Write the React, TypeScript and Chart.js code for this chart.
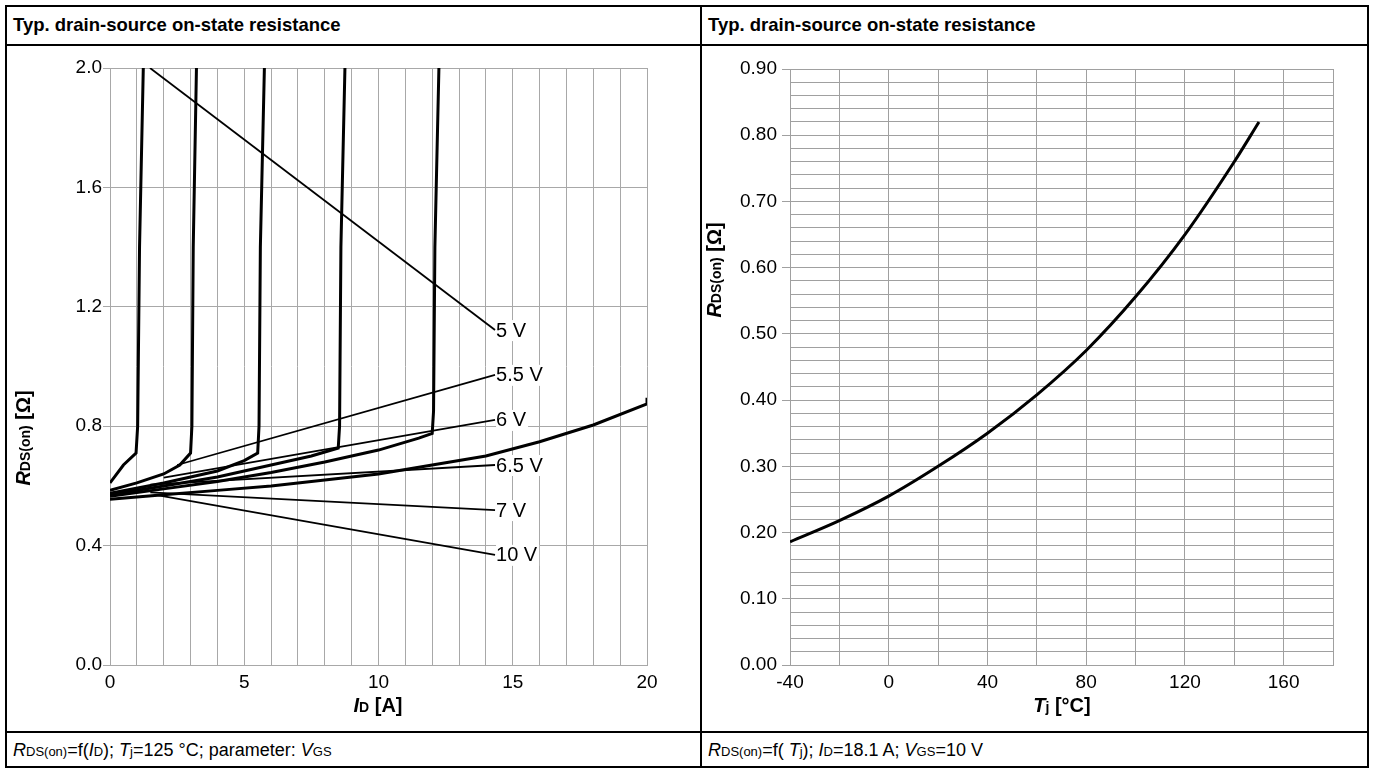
import React, { useEffect, useRef } from "react";
import { Chart, registerables } from "chart.js";

Chart.register(...registerables);

const FONT = "'Liberation Sans', Arial, sans-serif";
const TICK_SIZE = 19;

// ---------- Left chart: RDS(on) = f(ID), Tj = 125 °C ----------
const curve5V_I = [0, 0.5, 0.97, 1.03, 1.1, 1.24];
const curve5V_R = [0.61, 0.67, 0.71, 0.8, 1.4, 2.0];
const curve55V_I = [0, 1, 2, 2.6, 3.0, 3.05, 3.1, 3.22];
const curve55V_R = [0.585, 0.61, 0.64, 0.67, 0.71, 0.8, 1.4, 2.0];
const curve6V_I = [0, 2, 4, 5, 5.5, 5.55, 5.6, 5.75];
const curve6V_R = [0.575, 0.61, 0.65, 0.685, 0.71, 0.8, 1.4, 2.0];
const curve65V_I = [0, 2, 4, 6, 7.5, 8.5, 8.55, 8.6, 8.75];
const curve65V_R = [0.57, 0.6, 0.63, 0.67, 0.7, 0.727, 0.8, 1.4, 2.0];
const curve7V_I = [0, 2, 4, 6, 8, 10, 11.5, 12.0, 12.05, 12.1, 12.25];
const curve7V_R = [0.565, 0.59, 0.615, 0.645, 0.68, 0.72, 0.76, 0.776, 0.85, 1.4, 2.0];
const curve10V_I = [0, 2, 4, 6, 8, 10, 12, 14, 16, 18, 20, 20];
const curve10V_R = [0.555, 0.57, 0.585, 0.6, 0.62, 0.64, 0.67, 0.7, 0.748, 0.804, 0.875, 0.895];

const vgsLabels = ["5 V", "5.5 V", "6 V", "6.5 V", "7 V", "10 V"];
const leaderStartI = [1.49, 2.5, 2.0, 1.5, 1.5, 1.7];
const leaderStartR = [2.0, 0.67, 0.628, 0.604, 0.578, 0.57];
const labelI = [14.34, 14.34, 14.34, 14.34, 14.34, 14.34];
const labelR = [1.122, 0.972, 0.821, 0.67, 0.519, 0.369];

// ---------- Right chart: RDS(on) = f(Tj) ----------
const tjValues = [-40, -20, 0, 20, 40, 60, 80, 100, 120, 140, 150];
const rdsTj = [0.186, 0.218, 0.255, 0.3, 0.35, 0.408, 0.475, 0.556, 0.65, 0.76, 0.82];

type Seg = { t: string; f: string; dy?: number };

function drawRich(ctx: CanvasRenderingContext2D, segs: Seg[], cx: number, cy: number, rotate: boolean) {
  ctx.save();
  ctx.translate(cx, cy);
  if (rotate) ctx.rotate(-Math.PI / 2);
  let total = 0;
  const widths = segs.map((s) => {
    ctx.font = s.f;
    const w = ctx.measureText(s.t).width;
    total += w;
    return w;
  });
  let x = -total / 2;
  ctx.fillStyle = "#000";
  ctx.textBaseline = "middle";
  ctx.textAlign = "left";
  segs.forEach((s, i) => {
    ctx.font = s.f;
    ctx.fillText(s.t, x, s.dy || 0);
    x += widths[i];
  });
  ctx.restore();
}

const pts = (xs: number[], ys: number[]) => xs.map((x, i) => ({ x, y: ys[i] }));

const rTitle = (): Seg[] => [
  { t: "R", f: `italic bold 20px ${FONT}` },
  { t: "DS(on)", f: `bold 14px ${FONT}`, dy: 2 },
  { t: " [Ω]", f: `bold 20px ${FONT}` },
];

function LeftChart() {
  const ref = useRef<HTMLCanvasElement>(null);
  useEffect(() => {
    const curves = [
      pts(curve5V_I, curve5V_R),
      pts(curve55V_I, curve55V_R),
      pts(curve6V_I, curve6V_R),
      pts(curve65V_I, curve65V_R),
      pts(curve7V_I, curve7V_R),
      pts(curve10V_I, curve10V_R),
    ];
    const datasets: any[] = curves.map((d) => ({
      data: d,
      showLine: true,
      borderColor: "#000",
      borderWidth: 3,
      pointRadius: 0,
      tension: 0,
      fill: false,
    }));
    vgsLabels.forEach((_, i) => {
      datasets.push({
        data: [
          { x: leaderStartI[i], y: leaderStartR[i] },
          { x: labelI[i], y: labelR[i] },
        ],
        showLine: true,
        borderColor: "#000",
        borderWidth: 1.8,
        pointRadius: 0,
        tension: 0,
        fill: false,
      });
    });
    const labelPlugin = {
      id: "vgsLabels",
      afterDatasetsDraw(chart: any) {
        const ctx = chart.ctx as CanvasRenderingContext2D;
        const xs = chart.scales.x;
        const ys = chart.scales.y;
        ctx.save();
        ctx.font = `20px ${FONT}`;
        ctx.textBaseline = "middle";
        ctx.textAlign = "left";
        vgsLabels.forEach((lab, i) => {
          const px = xs.getPixelForValue(labelI[i]);
          const py = ys.getPixelForValue(labelR[i]);
          const w = ctx.measureText(lab).width;
          ctx.fillStyle = "#fff";
          ctx.fillRect(px + 1, py - 10, w + 2, 21);
          ctx.fillStyle = "#000";
          ctx.fillText(lab, px + 1, py + 1);
        });
        drawRich(
          ctx,
          [
            { t: "I", f: `italic bold 20px ${FONT}` },
            { t: "D", f: `bold 14px ${FONT}`, dy: 2 },
            { t: " [A]", f: `bold 20px ${FONT}` },
          ],
          370,
          658,
          false
        );
        drawRich(ctx, rTitle(), 16, 390, true);
        ctx.restore();
      },
    };
    const chart = new Chart(ref.current!, {
      type: "scatter",
      data: { datasets },
      plugins: [labelPlugin],
      options: {
        animation: false,
        responsive: false,
        maintainAspectRatio: false,
        layout: { padding: { left: 0, right: 51, top: 20, bottom: 0 } },
        plugins: { legend: { display: false }, tooltip: { enabled: false } },
        scales: {
          x: {
            type: "linear",
            min: 0,
            max: 20,
            ticks: {
              stepSize: 1,
              autoSkip: false,
              maxTicksLimit: 100,
              maxRotation: 0,
              color: "#000",
              font: { family: FONT, size: TICK_SIZE },
              padding: 6,
              callback: (v: any) => (Number(v) % 5 === 0 ? String(v) : ""),
            },
            grid: { color: "#a8a8a8", drawTicks: false, lineWidth: 1 },
            border: { color: "#a8a8a8" },
            afterFit: (s: any) => {
              s.height = 65;
            },
          },
          y: {
            type: "linear",
            min: 0,
            max: 2,
            ticks: {
              stepSize: 0.4,
              maxTicksLimit: 100,
              color: "#000",
              font: { family: FONT, size: TICK_SIZE },
              padding: 1,
              callback: (v: any) => Number(v).toFixed(1),
            },
            grid: { color: "#a8a8a8", tickLength: 7, lineWidth: 1, tickColor: "#a8a8a8" },
            border: { color: "#a8a8a8" },
            afterFit: (s: any) => {
              s.width = 102;
            },
          },
        },
      } as any,
    });
    return () => chart.destroy();
  }, []);
  return <canvas ref={ref} width={690} height={682} style={{ width: 690, height: 682, display: "block" }} />;
}

function RightChart() {
  const ref = useRef<HTMLCanvasElement>(null);
  useEffect(() => {
    const plugin = {
      id: "titles",
      afterDraw(chart: any) {
        const ctx = chart.ctx as CanvasRenderingContext2D;
        drawRich(
          ctx,
          [
            { t: "T", f: `italic bold 20px ${FONT}` },
            { t: "j", f: `bold 14px ${FONT}`, dy: 2 },
            { t: " [°C]", f: `bold 20px ${FONT}` },
          ],
          359,
          658,
          false
        );
        drawRich(ctx, rTitle(), 12, 222, true);
      },
    };
    const chart = new Chart(ref.current!, {
      type: "scatter",
      data: {
        datasets: [
          {
            data: pts(tjValues, rdsTj),
            showLine: true,
            borderColor: "#000",
            borderWidth: 3,
            pointRadius: 0,
            tension: 0.4,
            cubicInterpolationMode: "monotone",
            fill: false,
          },
        ],
      },
      plugins: [plugin],
      options: {
        animation: false,
        responsive: false,
        maintainAspectRatio: false,
        layout: { padding: { left: 0, right: 33, top: 21, bottom: 0 } },
        plugins: { legend: { display: false }, tooltip: { enabled: false } },
        scales: {
          x: {
            type: "linear",
            min: -40,
            max: 180,
            ticks: {
              stepSize: 20,
              autoSkip: false,
              maxTicksLimit: 100,
              maxRotation: 0,
              color: "#000",
              font: { family: FONT, size: TICK_SIZE },
              padding: 6,
              callback: (v: any) => {
                const n = Number(v);
                return n % 40 === 0 && n <= 160 ? String(n) : "";
              },
            },
            grid: { color: "#a0a0a0", drawTicks: false, lineWidth: 1 },
            border: { color: "#a0a0a0" },
            afterFit: (s: any) => {
              s.height = 65;
            },
          },
          y: {
            type: "linear",
            min: 0,
            max: 0.9,
            ticks: {
              stepSize: 0.02,
              autoSkip: false,
              maxTicksLimit: 100,
              color: "#000",
              font: { family: FONT, size: TICK_SIZE },
              padding: 5,
              callback: (v: any, i: number) => (i % 5 === 0 ? Number(v).toFixed(2) : ""),
            },
            grid: {
              color: "#a0a0a0",
              tickLength: 8,
              lineWidth: 1,
              tickColor: (c: any) => (c.index % 5 === 0 ? "#a0a0a0" : "rgba(0,0,0,0)"),
            },
            border: { color: "#a0a0a0" },
            afterFit: (s: any) => {
              s.width = 87;
            },
          },
        },
      } as any,
    });
    return () => chart.destroy();
  }, []);
  return <canvas ref={ref} width={663} height={682} style={{ width: 663, height: 682, display: "block" }} />;
}

const small: React.CSSProperties = { fontSize: 13 };
const capStyle: React.CSSProperties = {
  position: "absolute",
  top: 739,
  fontSize: 18,
  lineHeight: "22px",
  whiteSpace: "nowrap",
};
const titleStyle: React.CSSProperties = {
  position: "absolute",
  top: 14,
  fontWeight: "bold",
  fontSize: 18.5,
  lineHeight: "22px",
  whiteSpace: "nowrap",
};

export default function App() {
  const line = "#000";
  return (
    <div
      style={{
        position: "absolute",
        left: 0,
        top: 0,
        width: 1374,
        height: 773,
        background: "#fff",
        fontFamily: FONT,
        color: "#000",
        overflow: "hidden",
      }}
    >
      <div
        style={{
          position: "absolute",
          left: 5,
          top: 5,
          width: 1364,
          height: 763,
          border: `2px solid ${line}`,
          boxSizing: "border-box",
        }}
      />
      <div style={{ position: "absolute", left: 5, top: 44, width: 1364, height: 2, background: line }} />
      <div style={{ position: "absolute", left: 5, top: 731, width: 1364, height: 2, background: line }} />
      <div style={{ position: "absolute", left: 700, top: 5, width: 2, height: 763, background: line }} />

      <div style={{ ...titleStyle, left: 13 }}>Typ. drain-source on-state resistance</div>
      <div style={{ ...titleStyle, left: 708 }}>Typ. drain-source on-state resistance</div>

      <div style={{ position: "absolute", left: 8, top: 48 }}>
        <LeftChart />
      </div>
      <div style={{ position: "absolute", left: 703, top: 48 }}>
        <RightChart />
      </div>

      <div style={{ ...capStyle, left: 13 }}>
        <i>R</i>
        <span style={small}>DS(on)</span>=f(<i>I</i>
        <span style={small}>D</span>); <i>T</i>
        <span style={small}>j</span>=125 °C; parameter: <i>V</i>
        <span style={small}>GS</span>
      </div>
      <div style={{ ...capStyle, left: 708 }}>
        <i>R</i>
        <span style={small}>DS(on)</span>=f( <i>T</i>
        <span style={small}>j</span>); <i>I</i>
        <span style={small}>D</span>=18.1 A; <i>V</i>
        <span style={small}>GS</span>=10 V
      </div>
    </div>
  );
}
